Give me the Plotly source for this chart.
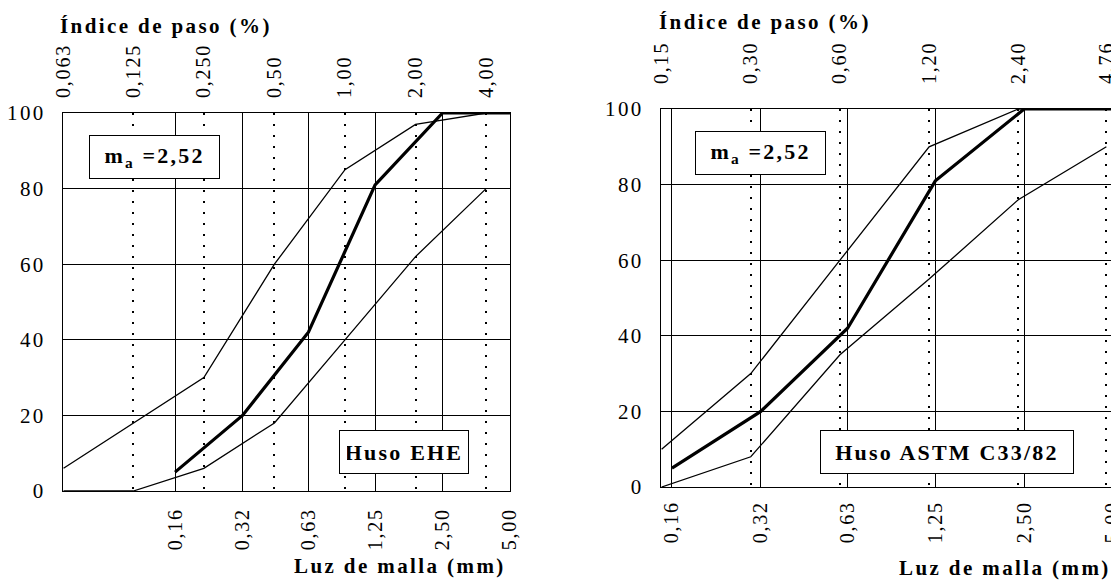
import plotly.graph_objects as go

# sieve openings (mm)
ehe_sieves = [0.063, 0.125, 0.25, 0.5, 1.0, 2.0, 4.0]
ehe_labels = ["0,063", "0,125", "0,250", "0,50", "1,00", "2,00", "4,00"]
ehe_upper = [6, 18, 30, 60, 85, 97, 100]
ehe_lower = [0, 0, 6, 18, 40, 62, 80]

astm_sieves = [0.15, 0.30, 0.60, 1.20, 2.40, 4.76]
astm_labels = ["0,15", "0,30", "0,60", "1,20", "2,40", "4,76"]
astm_upper = [10, 30, 60, 90, 100, 100]
astm_lower = [0, 8, 35, 55, 76, 90]

une_sieves = [0.16, 0.32, 0.63, 1.25, 2.50, 5.00]
une_labels = ["0,16", "0,32", "0,63", "1,25", "2,50", "5,00"]
sand = [5, 20, 42, 81, 100, 100]

y_ticks = [0, 20, 40, 60, 80, 100]

# the page body has an 8px margin, so the figure is drawn 8px in from the corner
OFF = 8
W, H = 1119 - OFF, 585 - OFF
FONT = "Liberation Serif, Times New Roman, serif"


def sp(t, ls):
    return f'<span style="letter-spacing:{ls}px">{t}</span>'


def px(x):
    return (x - OFF) / W


def py(y):
    return 1 - (y - OFF) / H


thin = dict(color="black", width=1.3)
thick = dict(color="black", width=3.2)

fig = go.Figure()
# left chart (EHE)
fig.add_trace(go.Scatter(x=ehe_sieves, y=ehe_upper, mode="lines", line=thin, xaxis="x2", yaxis="y"))
fig.add_trace(go.Scatter(x=ehe_sieves, y=ehe_lower, mode="lines", line=thin, xaxis="x2", yaxis="y"))
fig.add_trace(go.Scatter(x=une_sieves, y=sand, mode="lines", line=thick, xaxis="x", yaxis="y"))
# right chart (ASTM)
fig.add_trace(go.Scatter(x=astm_sieves, y=astm_upper, mode="lines", line=thin, xaxis="x4", yaxis="y2"))
fig.add_trace(go.Scatter(x=astm_sieves, y=astm_lower, mode="lines", line=thin, xaxis="x4", yaxis="y2"))
fig.add_trace(go.Scatter(x=une_sieves, y=sand, mode="lines", line=thick, xaxis="x3", yaxis="y2"))

tickfont = dict(family=FONT, size=20, color="black")

bottom = dict(type="log", tickmode="array", tickvals=une_sieves,
              ticktext=[sp(t, 1.8) for t in une_labels], tickangle=-90,
              showgrid=True, gridcolor="black", gridwidth=1.2,
              showline=True, linecolor="black", linewidth=1.2, mirror=True,
              ticks="", tickfont=tickfont, zeroline=False, automargin=False,
              ticklabeloverflow="allow")
yax = dict(range=[0, 100], tickmode="array", tickvals=y_ticks,
           ticktext=[sp(str(v), 2.4) for v in y_ticks],
           showgrid=True, gridcolor="black", gridwidth=1.2,
           showline=True, linecolor="black", linewidth=1.2, mirror=True,
           ticks="", tickfont=dict(tickfont, size=21), zeroline=False,
           ticklabelstandoff=12, automargin=False)
top = dict(type="log", side="top", tickmode="array", tickangle=-90,
           showgrid=True, gridcolor="black", gridwidth=2, griddash="2px,9px",
           ticks="", tickfont=tickfont, zeroline=False, showline=False,
           automargin=False, ticklabeloverflow="allow")

fig.update_layout(
    width=W, height=H, margin=dict(l=0, r=0, t=0, b=0),
    paper_bgcolor="white", plot_bgcolor="white", showlegend=False,
    xaxis=dict(bottom, domain=[px(63), px(510)], range=[-1.296, 0.699],
               anchor="y", ticklabelstandoff=8),
    xaxis2=dict(top, overlaying="x", anchor="y", range=[-1.203, 0.704],
                tickvals=ehe_sieves, ticktext=[sp(t, 1.8) for t in ehe_labels],
                ticklabelstandoff=14),
    yaxis=dict(yax, domain=[py(491), py(113)], anchor="x"),
    xaxis3=dict(bottom, domain=[px(661), px(1113)], range=[-0.833, 0.699],
                anchor="y2", ticklabelstandoff=5),
    xaxis4=dict(top, overlaying="x3", anchor="y2", range=[-0.826, 0.70],
                tickvals=astm_sieves, ticktext=[sp(t, 1.8) for t in astm_labels],
                ticklabelstandoff=24),
    yaxis2=dict(yax, domain=[py(487), py(109)], anchor="x3"),
)

title_font = dict(family=FONT, size=21, color="black")
box_font = dict(family=FONT, size=22, color="black")

annots = [
    dict(text=sp("<b>Índice de paso (%)</b>", 2.4), x=px(58), y=py(26), xanchor="left", font=title_font),
    dict(text=sp("<b>Índice de paso (%)</b>", 2.4), x=px(657), y=py(22), xanchor="left", font=title_font),
    dict(text=sp("<b>Luz de malla (mm)</b>", 2.4), x=px(508), y=py(566), xanchor="right", font=title_font),
    dict(text=sp("<b>Luz de malla (mm)</b>", 2.4), x=px(1113), y=py(568), xanchor="right", font=title_font),
]
for a in annots:
    a.update(xref="paper", yref="paper", yanchor="middle", showarrow=False)
    fig.add_annotation(**a)

boxes = [
    ("<b>m<sub>a</sub> =2,52</b>", 154.5, 157, 115),
    ("<b>m<sub>a</sub> =2,52</b>", 760.5, 152.5, 115),
    ("<b>Huso EHE</b>", 404, 452, 114),
    ("<b>Huso ASTM C33/82</b>", 947, 451.5, 238),
]
for text, cx, cy, w in boxes:
    fig.add_annotation(text=sp(text, 2.2), x=px(cx), y=py(cy), xref="paper", yref="paper",
                       xanchor="center", yanchor="middle", showarrow=False,
                       font=box_font, bgcolor="white", bordercolor="black",
                       borderwidth=1, borderpad=7, width=w, height=28)

fig.write_html("out.html")
